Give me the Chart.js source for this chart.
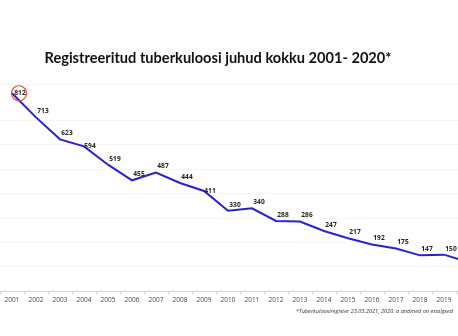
<!DOCTYPE html>
<html>
<head>
<meta charset="utf-8">
<script src="https://cdn.jsdelivr.net/npm/chart.js@4"></script>
<style>
  html, body { margin: 0; padding: 0; background: #fff; overflow: hidden; }
  #wrap { position: relative; width: 458px; height: 336px; overflow: hidden; }
  #box { position: absolute; left: 0; top: 0; width: 480px; height: 336px; }
  #title { position: absolute; left: 0; width: 436px; top: 49px; text-align: center;
    font: bold 14.6px Lato, sans-serif; color: #111; }
  #note { position: absolute; right: 5px; top: 307px;
    font: italic 5.6px "Open Sans", sans-serif; color: #333; }
</style>
</head>
<body>
<div id="wrap">
  <div id="box"><canvas id="myChart"></canvas></div>
  <div id="title">Registreeritud tuberkuloosi juhud kokku 2001- 2020*</div>
  <div id="note">*Tuberkuloosiregister 23.03.2021, 2020. a andmed on esialgsed</div>
</div>
<script>
// andmed
const years = ["2001", "2002", "2003", "2004", "2005", "2006", "2007", "2008", "2009", "2010",
  "2011", "2012", "2013", "2014", "2015", "2016", "2017", "2018", "2019", "2020"];
const cases = [812, 713, 623, 594, 519, 455, 487, 444, 411, 330, 340, 288, 286, 247, 217, 192, 175, 147, 150, 120];

// väärtuste sildid + punane ring esimese ümber
const labelPlugin = {
  id: "labels",
  afterDatasetsDraw(chart) {
    const ctx = chart.ctx;
    const pts = chart.getDatasetMeta(0).data;
    ctx.save();
    ctx.font = "bold 6.6px 'Open Sans', sans-serif";
    ctx.fillStyle = "#222";
    ctx.textAlign = "center";
    ctx.textBaseline = "middle";
    pts.forEach(function (p, i) {
      let dx = 7, dy = -6;
      if (i === 0) { dx = 8; dy = 0; }
      if (i === 3 || i === 8) { dx = 6; dy = 0; }
      ctx.fillText(cases[i], p.x + dx, p.y + dy);
    });
    // ring
    ctx.strokeStyle = "#e8443a";
    ctx.lineWidth = 1.2;
    ctx.beginPath();
    ctx.arc(pts[0].x + 7, pts[0].y, 7.5, 0, Math.PI * 2);
    ctx.stroke();
    ctx.restore();
  },
};

const ctx = document.getElementById("myChart").getContext("2d");
const myChart = new Chart(ctx, {
  type: "line",
  data: {
    labels: years,
    datasets: [
      {
        data: cases,
        borderColor: "#2b1fd4",
        borderWidth: 2,
        pointRadius: 0,
        tension: 0,
      },
    ],
  },
  options: {
    responsive: true,
    maintainAspectRatio: false,
    animation: false,
    layout: { padding: { top: 84, bottom: 30, left: 0, right: 0 } },
    plugins: { legend: { display: false }, tooltip: { enabled: false } },
    scales: {
      x: {
        offset: true,
        grid: { display: true, drawOnChartArea: false, color: "#f6c9b0", tickLength: 3, offset: true },
        border: { color: "#f6c9b0", width: 1 },
        ticks: { color: "#444", font: { size: 6.5, family: "'Open Sans', sans-serif" }, padding: 2, maxRotation: 0, autoSkip: false },
      },
      y: {
        display: true,
        min: 0,
        max: 850,
        ticks: { display: false, stepSize: 100 },
        grid: { color: "#f5f5f5", drawTicks: false },
        border: { display: false },
      },
    },
  },
  plugins: [labelPlugin],
});
</script>
</body>
</html>
